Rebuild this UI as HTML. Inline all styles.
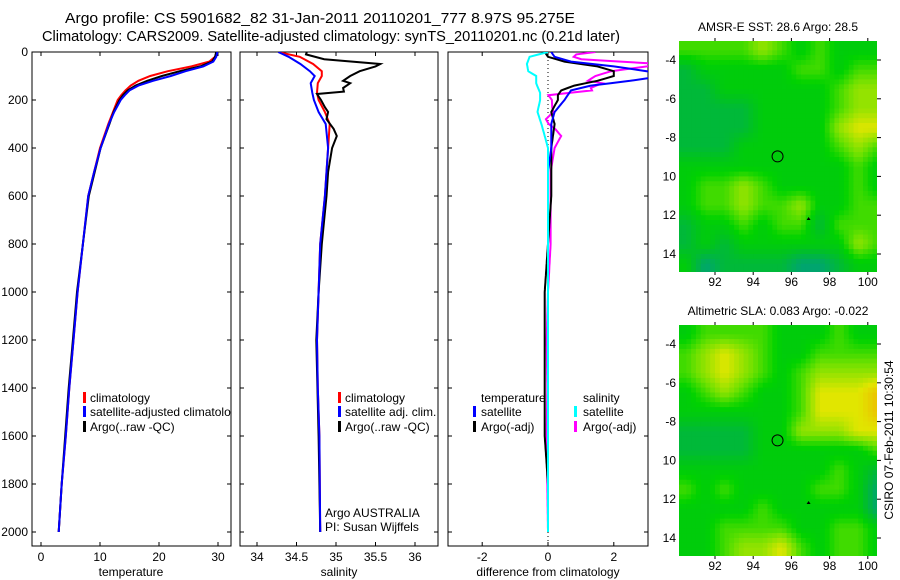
<!DOCTYPE html>
<html><head><meta charset="utf-8"><style>
html,body{margin:0;padding:0;background:#fff;}
svg{display:block;font-family:"Liberation Sans",sans-serif;}
</style></head><body>
<svg id="fig" width="900" height="580" viewBox="0 0 900 580">
<text x="65" y="23" font-size="14.5" textLength="510" lengthAdjust="spacingAndGlyphs">Argo profile: CS 5901682_82 31-Jan-2011 20110201_777 8.97S 95.275E</text>
<text x="42" y="41" font-size="14.5" textLength="578" lengthAdjust="spacingAndGlyphs">Climatology: CARS2009. Satellite-adjusted climatology: synTS_20110201.nc (0.21d later)</text>
<defs>
<clipPath id="c1"><rect x="32" y="52" width="199" height="494"/></clipPath>
<clipPath id="c2"><rect x="240" y="52" width="198" height="494"/></clipPath>
<clipPath id="c3"><rect x="448" y="52" width="200" height="494"/></clipPath>
<clipPath id="m1"><rect x="679" y="41" width="198" height="231"/></clipPath>
<clipPath id="m2"><rect x="679" y="325" width="198" height="231"/></clipPath>
<clipPath id="lab"><rect x="662" y="0" width="30" height="580"/></clipPath>
</defs>
<g id="layer"></g>
<text transform="translate(893,440) rotate(-90)" text-anchor="middle" font-size="12">CSIRO 07-Feb-2011 10:30:54</text>
</svg>
<script>
// ---- data ----
const depthTicks = [0,200,400,600,800,1000,1200,1400,1600,1800,2000];
const tempTicks = [0,10,20,30];
const salTicks = [34,34.5,35,35.5,36];
const diffTicks = [-2,0,2];
const lonTicks = [92,94,96,98,100];
const latTicks = [-4,-6,-8,-10,-12,-14];

const tDepth = [0,20,40,60,80,100,120,140,160,180,200,250,300,400,500,600,800,1000,1200,1400,1600,1800,2000];
const tempClim = [29.8,29.5,28.5,25.5,21.5,18.5,16.5,15.2,14.3,13.6,13.0,12.2,11.4,10,9,8,7.1,6.2,5.5,4.8,4.2,3.5,3.0];
const tempSat  = [29.9,29.7,29.2,27.5,24.5,22,19,16.5,15,14.2,13.5,12.4,11.5,10.1,9,8,7.1,6.2,5.5,4.8,4.2,3.5,3.0];
const tempArgo = [29.7,29.5,29,27,23.5,20.5,18,16,14.7,13.9,13.3,12.3,11.6,10.1,9.1,8.1,7.1,6.1,5.4,4.7,4.1,3.5,3.0];

const sDepth = [0,20,50,80,100,130,170,200,250,300,400,600,800,1000,1200,1400,1600,2000];
const salClim = [34.27,34.54,34.71,34.82,34.82,34.77,34.76,34.78,34.86,34.92,34.9,34.86,34.8,34.78,34.76,34.77,34.79,34.8];
const salSat  = [34.27,34.4,34.55,34.67,34.73,34.68,34.7,34.72,34.78,34.87,34.9,34.86,34.8,34.78,34.76,34.77,34.79,34.8];
const argoSDepth = [0,10,30,50,60,80,100,120,130,150,165,175,200,230,250,280,320,350,400,500,600,800,1000,1200,1600,2000];
const salArgo = [34.63,34.62,34.85,35.56,35.5,35.3,35.18,35.09,35.18,35.09,35.1,34.76,34.81,34.86,34.9,34.88,34.97,35.01,34.95,34.9,34.88,34.82,34.78,34.75,34.78,34.8];

const mapLons = [90.5,91.5,92.5,93.5,94.5,95.5,96.5,97.5,98.5,99.5,100.5];
const mapLats = [-3.5,-4.5,-5.5,-6.5,-7.5,-8.5,-9.5,-10.5,-11.5,-12.5,-13.5,-14.5];
const sstGrid = [
[6,6,6,6,7,6,5,6,5,5,5],
[4,5,5,5,5,5,6,6,5,6,6],
[4,4,5,5,5,5,5,5,6,7,7],
[4,4,4,4,5,5,5,5,6,7,7],
[4,4,4,4,5,5,5,5,7,8,8],
[4,4,4,5,5,5,5,5,6,7,6],
[5,5,5,5,5,5,5,5,5,6,5],
[5,6,6,7,6,5,5,5,5,6,5],
[5,6,6,7,6,6,7,5,5,6,6],
[4,5,5,6,5,6,6,4,6,6,6],
[4,5,4,5,5,5,5,5,5,7,6],
[5,3,4,4,4,4,3,3,4,5,5]];
const slaGrid = [
[5,6,6,6,6,5,5,5,6,5,5],
[6,7,8,7,6,5,5,6,6,6,6],
[6,7,8,7,6,5,6,7,7,7,7],
[5,6,7,6,5,5,6,8,8,8,9],
[5,5,5,5,5,5,6,8,8,8,9],
[4,4,4,4,5,5,7,7,7,8,8],
[4,4,4,4,5,5,5,5,5,5,6],
[5,5,5,5,5,5,5,5,6,5,4],
[6,5,6,5,5,5,5,6,6,5,3],
[5,5,5,5,6,5,5,5,5,5,3],
[5,5,6,6,6,6,5,5,6,6,5],
[5,5,6,7,7,8,6,5,6,6,5]];
const floatLon = 95.275, floatLat = -8.97;
const salDiffScale = 4;

// ---- helpers ----
const NS="http://www.w3.org/2000/svg";
const layer=document.getElementById('layer');
function mk(tag,attrs,parent){const e=document.createElementNS(NS,tag);for(const k in attrs)e.setAttribute(k,attrs[k]);(parent||layer).appendChild(e);return e;}
const yD=d=>52+d*0.24;
const xT=t=>41+t*5.9;
const xS=s=>257+(s-34)*79;
const xF=f=>548+f*32.9;
function interp(ds,vs,d){if(d<=ds[0])return vs[0];for(let i=1;i<ds.length;i++){if(d<=ds[i]){const f=(d-ds[i-1])/(ds[i]-ds[i-1]);return vs[i-1]+f*(vs[i]-vs[i-1]);}}return vs[vs.length-1];}

function panel(x0,x1,name){
  const r=mk('rect',{x:x0,y:52,width:x1-x0,height:494,fill:'none',stroke:'#000','stroke-width':1});
  
  
  depthTicks.forEach(d=>{
    const y=yD(d);
    const t=mk('path',{d:`M${x0},${y}h4M${x1},${y}h-4`,stroke:'#000'});
    
    
  });
}
function xticks(ticks,fx,name){
  ticks.forEach(v=>{
    const x=fx(v);
    const t=mk('path',{d:`M${x},52v4M${x},546v-4`,stroke:'#000'});
    
    
    const l=mk('text',{x:x,y:561,'text-anchor':'middle','font-size':12});
    l.textContent=String(v);
    
    
  });
}
function line(ds,vs,fx,color,clip,name){
  const pts=ds.map((d,i)=>fx(vs[i]).toFixed(1)+','+yD(d).toFixed(1)).join(' ');
  const p=mk('polyline',{points:pts,fill:'none',stroke:color,'stroke-width':2,'clip-path':'url(#'+clip+')'});
  
  
}
function txt(x,y,s,name,anchor,clip){
  const a={x:x,y:y,'font-size':12,'text-anchor':anchor||'start'};
  if(clip)a['clip-path']='url(#'+clip+')';
  const t=mk('text',a);
  t.textContent=s;
  
  
}
function legBar(x,y,color,name){
  const r=mk('rect',{x:x,y:y-10,width:3,height:11,fill:color});
  
  
}

// depth labels
depthTicks.forEach(d=>{
  const t=mk('text',{x:28,y:yD(d)+4,'text-anchor':'end','font-size':12});
  t.textContent=String(d);
  
  
});

// panel 1 temperature
panel(32,231,'temperature-panel');
xticks(tempTicks,xT,'temperature');
line(tDepth,tempClim,xT,'#f00','c1','temperature-climatology-line');
line(tDepth,tempArgo,xT,'#000','c1','temperature-argo-line');
line(tDepth,tempSat,xT,'#00f','c1','temperature-satellite-line');
txt(131,576,'temperature','temperature-axis-title','middle');
legBar(83,402,'#f00','legend-climatology-swatch');txt(90,402,'climatology','legend-climatology');
legBar(83,416,'#00f','legend-satellite-swatch');txt(90,416,'satellite-adjusted climatology','legend-satellite-adjusted','start','c1');
legBar(83,431,'#000','legend-argo-swatch');txt(90,431,'Argo(..raw -QC)','legend-argo');

// panel 2 salinity
panel(240,438,'salinity-panel');
xticks(salTicks,xS,'salinity');
line(sDepth,salClim,xS,'#f00','c2','salinity-climatology-line');
line(argoSDepth,salArgo,xS,'#000','c2','salinity-argo-line');
line(sDepth,salSat,xS,'#00f','c2','salinity-satellite-line');
txt(339,576,'salinity','salinity-axis-title','middle');
legBar(338,402,'#f00','legend-sal-climatology-swatch');txt(345,402,'climatology','legend-sal-climatology');
legBar(338,416,'#00f','legend-sal-satellite-swatch');txt(345,416,'satellite adj. clim.','legend-sal-satellite');
legBar(338,431,'#000','legend-sal-argo-swatch');txt(345,431,'Argo(..raw -QC)','legend-sal-argo');
txt(325,517,'Argo AUSTRALIA','argo-australia-label');
txt(325,531,'PI: Susan Wijffels','pi-label');

// panel 3 differences
panel(448,648,'difference-panel');
xticks(diffTicks,xF,'difference');
const z=mk('line',{x1:xF(0),y1:52,x2:xF(0),y2:546,stroke:'#000','stroke-dasharray':'1,3'});


const gridD=[];for(let d=0;d<=2000;d+=10)gridD.push(d);
const dTS=gridD.map(d=>interp(tDepth,tempSat,d)-interp(tDepth,tempClim,d));
const dTA=gridD.map(d=>interp(tDepth,tempArgo,d)-interp(tDepth,tempClim,d));
const dSS=gridD.map(d=>(interp(sDepth,salSat,d)-interp(sDepth,salClim,d))*salDiffScale);
const dSA=gridD.map(d=>(interp(argoSDepth,salArgo,d)-interp(sDepth,salClim,d))*salDiffScale);
line(gridD,dSA,xF,'#f0f','c3','salinity-argo-diff-line');
line(gridD,dTA,xF,'#000','c3','temperature-argo-diff-line');
line(gridD,dTS,xF,'#00f','c3','temperature-satellite-diff-line');
line(gridD,dSS,xF,'#0ff','c3','salinity-satellite-diff-line');
txt(548,576,'difference from climatology','difference-axis-title','middle');
txt(481,402,'temperature','legend-temperature-heading');
legBar(473,416,'#00f','legend-temp-sat-swatch');txt(481,416,'satellite','legend-temp-satellite');
legBar(473,431,'#000','legend-temp-argo-swatch');txt(481,431,'Argo(-adj)','legend-temp-argo');
txt(583,402,'salinity','legend-salinity-heading');
legBar(574,416,'#0ff','legend-sal-sat-swatch');txt(583,416,'satellite','legend-sal-satellite-diff');
legBar(574,431,'#f0f','legend-sal-argo-swatch');txt(583,431,'Argo(-adj)','legend-sal-argo-diff');

// ---- maps ----
const stops=[[0,[0,180,220]],[3,[0,165,110]],[4.5,[0,195,30]],[5.3,[0,210,0]],[6.5,[110,225,0]],[8,[225,230,0]],[10,[245,160,0]]];
function cmap(v){for(let i=1;i<stops.length;i++){if(v<=stops[i][0]){const a=stops[i-1],b=stops[i];const f=Math.max(0,(v-a[0])/(b[0]-a[0]));return 'rgb('+a[1].map((c,k)=>Math.round(c+f*(b[1][k]-c))).join(',')+')';}}return 'rgb(245,160,0)';}
function sample(grid,lon,lat){
  let fx=(lon-mapLons[0]);let fy=(mapLats[0]-lat);
  fx=Math.max(0,Math.min(mapLons.length-1.001,fx));fy=Math.max(0,Math.min(mapLats.length-1.001,fy));
  const i=Math.floor(fx),j=Math.floor(fy),u=fx-i,v=fy-j;
  return grid[j][i]*(1-u)*(1-v)+grid[j][i+1]*u*(1-v)+grid[j+1][i]*(1-u)*v+grid[j+1][i+1]*u*v;
}
function drawMap(grid,top,clip,name,title){
  const xL=lon=>715+(lon-92)*19.1;
  const yL=lat=>top+19+(-4-lat)*19.4;
  const g=mk('g',{'clip-path':'url(#'+clip+')'});
  
  
  const step=0.25;
  for(let lat=-3;lat>-15.2;lat-=step){
    for(let lon=90;lon<101;lon+=step){
      const v=sample(grid,lon+step/2,lat-step/2);
      const c=mk('rect',{x:xL(lon).toFixed(1),y:yL(lat).toFixed(1),width:(step*19.1+0.6).toFixed(1),height:(step*19.4+0.6).toFixed(1),fill:cmap(v)},g);
      
      
    }
  }
  const circ=mk('circle',{cx:xL(floatLon),cy:yL(floatLat),r:5.5,fill:'none',stroke:'#000','stroke-width':1});
  
  
  const tri=mk('path',{d:`M${xL(96.9)-2},${yL(-12.25)}l2,-3l2,3z`,fill:'#000'});
  
  
  lonTicks.forEach(lon=>{
    const x=xL(lon);
    const t=mk('path',{d:`M${x},${top}v-3M${x},${top+231}v3`,stroke:'#000'});
    
    
    const l=mk('text',{x:x,y:top+245,'text-anchor':'middle','font-size':12});
    l.textContent=String(lon);
    
    
  });
  latTicks.forEach(lat=>{
    const y=yL(lat);
    const t=mk('path',{d:`M877,${y}h4`,stroke:'#000'});
    
    
    const l=mk('text',{x:676,y:y+4,'text-anchor':'end','font-size':12,'clip-path':'url(#lab)'});
    l.textContent=String(lat);
    
    
  });
  const tt=mk('text',{x:778,y:top-10,'text-anchor':'middle','font-size':12});
  tt.textContent=title;
  
  
}
drawMap(sstGrid,41,'m1','sst-map','AMSR-E SST: 28.6 Argo: 28.5');
drawMap(slaGrid,325,'m2','sla-map','Altimetric SLA: 0.083 Argo: -0.022');
</script>
</body></html>
